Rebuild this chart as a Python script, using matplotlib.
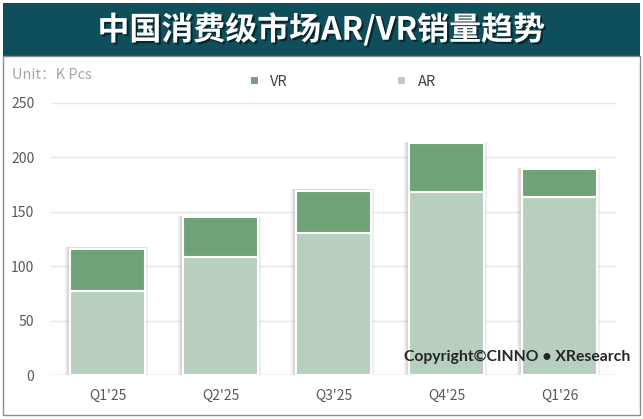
import matplotlib
matplotlib.use("Agg")
import matplotlib.pyplot as plt
import matplotlib.patheffects as pe
from matplotlib.patches import Rectangle

plt.rcParams['font.family'] = ['Noto Sans CJK SC', 'DejaVu Sans']

quarters = ["Q1'25", "Q2'25", "Q3'25", "Q4'25", "Q1'26"]
ar = [77, 108.5, 130.5, 168, 163.5]
vr = [39, 36.5, 38.5, 45, 25.5]
yticks = [0, 50, 100, 150, 200, 250]

c_vr = "#6FA277"
c_ar = "#B8CEBE"
c_banner = "#0F4F5C"

fig = plt.figure(figsize=(6.43, 4.19), dpi=100)
W, H = 643, 419

# title banner and outer frame
fig.patches.append(Rectangle((3/W, 1 - 56/H), 637/W, 53/H, transform=fig.transFigure,
                             facecolor=c_banner, edgecolor="none"))
fig.patches.append(Rectangle((3/W, 1 - 415/H), 637/W, 359/H, transform=fig.transFigure,
                             facecolor="none", edgecolor="#8C8C8C", lw=1))
fig.text(0.5, 1 - 30/H, "中国消费级市场AR/VR销量趋势", color="white", fontsize=23,
         fontweight="bold", ha="center", va="center",
         path_effects=[pe.withSimplePatchShadow(offset=(1.5, -1.5), shadow_rgbFace="black", alpha=0.5)])

ax = fig.add_axes([51/W, 1 - 375/H, 565/W, 272/H])
x = list(range(len(quarters)))
total = [a + v for a, v in zip(ar, vr)]

# soft shadow behind the stacks
for dx, a in [(0.035, 0.10), (0.02, 0.15)]:
    ax.bar([i - 0.01 for i in x], [t + 1.5 for t in total], width=0.66 + 2 * dx,
           color="#606060", alpha=a, lw=0, zorder=2)
b1 = ax.bar(x, ar, width=0.66, color=c_ar, edgecolor="white", lw=1.5, zorder=3, label="AR")
b2 = ax.bar(x, vr, bottom=ar, width=0.66, color=c_vr, edgecolor="white", lw=1.5, zorder=3, label="VR")

ax.set_ylim(0, 250)
ax.set_xlim(-0.5, 4.5)
ax.set_yticks(yticks)
ax.set_xticks(x)
ax.set_xticklabels(quarters)
ax.tick_params(axis="both", length=0, colors="#595959", labelsize=10)
ax.tick_params(axis="x", pad=10)
ax.tick_params(axis="y", pad=12)
ax.grid(axis="y", color="#E6E6E6", lw=1, zorder=0)
for s in ax.spines.values():
    s.set_visible(False)
ax.axhline(0, color="#D9D9D9", lw=1, zorder=2)

fig.text(12/W, 1 - 75/H, "Unit：K Pcs", color="#A6A6A6", fontsize=10.5, ha="left", va="center")
ax.legend([b2, b1], ["VR", "AR"], loc="center", bbox_to_anchor=(343/W, 1 - 82/H),
          bbox_transform=fig.transFigure, ncol=2, frameon=False, fontsize=10.5,
          handlelength=0.6, handleheight=0.6, columnspacing=7.5, labelcolor="#404040")

fig.text(630/W, 1 - 357/H, "Copyright©CINNO • XResearch", fontsize=11.3, fontweight="bold",
         color="#262626", ha="right", va="center", family=["Lato", "DejaVu Sans"])

fig.savefig("out.png", dpi=100)
